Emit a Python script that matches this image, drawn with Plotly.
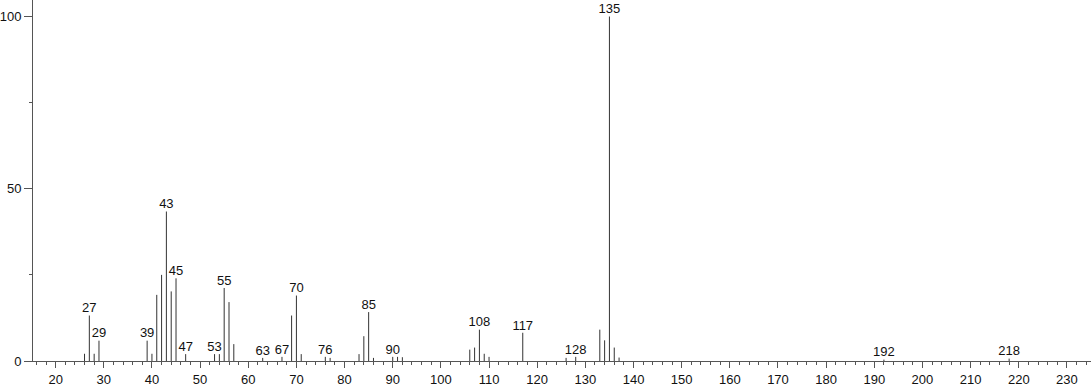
import plotly.graph_objects as go

# m/z values and relative intensities (%)
mz = [26, 27, 28, 29, 39, 40, 41, 42, 43, 44, 45, 47, 53, 54, 55, 56, 57,
      63, 67, 69, 70, 71, 76, 77, 83, 84, 85, 86, 90, 91, 92,
      106, 107, 108, 109, 110, 117, 126, 128, 133, 134, 135, 136, 137,
      192, 218]
intensity = [2.1, 13.2, 2.1, 5.9, 5.9, 2.1, 19.2, 25.0, 43.4, 20.2, 24.0, 2.0, 2.0, 2.0, 21.2, 17.1, 4.9,
             0.9, 1.2, 13.2, 19.0, 2.0, 1.2, 0.9, 2.0, 7.2, 14.2, 0.9, 1.2, 1.2, 1.1,
             3.3, 3.9, 9.1, 2.1, 1.2, 8.2, 0.9, 1.2, 9.1, 6.0, 100.0, 3.9, 1.0,
             0.4, 0.7]
labeled_mz = [27, 29, 39, 43, 45, 47, 53, 55, 63, 67, 70, 76, 85, 90, 108, 117, 128, 135, 192, 218]

x_ticks = list(range(20, 231, 10))
y_ticks = [0, 50, 100]

xs, ys = [], []
for m, v in zip(mz, intensity):
    xs += [m, m, None]
    ys += [0, v, None]

lookup = dict(zip(mz, intensity))
lab_y = [lookup[m] for m in labeled_mz]

fig = go.Figure()
fig.add_trace(go.Scatter(x=xs, y=ys, mode="lines",
                         line=dict(color="#333333", width=1),
                         hoverinfo="skip", showlegend=False))
fig.add_trace(go.Scatter(x=labeled_mz, y=lab_y, mode="text",
                         text=[str(m) for m in labeled_mz],
                         textposition="top center",
                         textfont=dict(family="Liberation Sans, Arial, sans-serif", size=13, color="#111111"),
                         cliponaxis=False, hoverinfo="skip", showlegend=False))

fig.update_layout(
    width=1091, height=387,
    margin=dict(l=30, r=0, t=0, b=25),
    paper_bgcolor="white", plot_bgcolor="white",
    font=dict(family="Liberation Sans, Arial, sans-serif", size=13, color="#111111"),
    showlegend=False,
)
fig.update_xaxes(range=[15.3, 235], tickvals=x_ticks, ticktext=[str(t) for t in x_ticks],
                 showgrid=False, zeroline=False, showline=True, linecolor="#555555", linewidth=1,
                 ticks="outside", ticklen=6, tickcolor="#555555",
                 minor=dict(dtick=2, tick0=0, ticks="outside", ticklen=3, tickcolor="#555555", showgrid=False))
fig.update_yaxes(range=[0, 104.8], tickvals=y_ticks, ticktext=[str(t) for t in y_ticks],
                 showgrid=False, zeroline=False, showline=True, linecolor="#555555", linewidth=1,
                 ticks="outside", ticklen=8, tickcolor="#555555",
                 minor=dict(dtick=25, tick0=0, ticks="outside", ticklen=3, tickcolor="#555555", showgrid=False))

fig.write_html("out.html")
